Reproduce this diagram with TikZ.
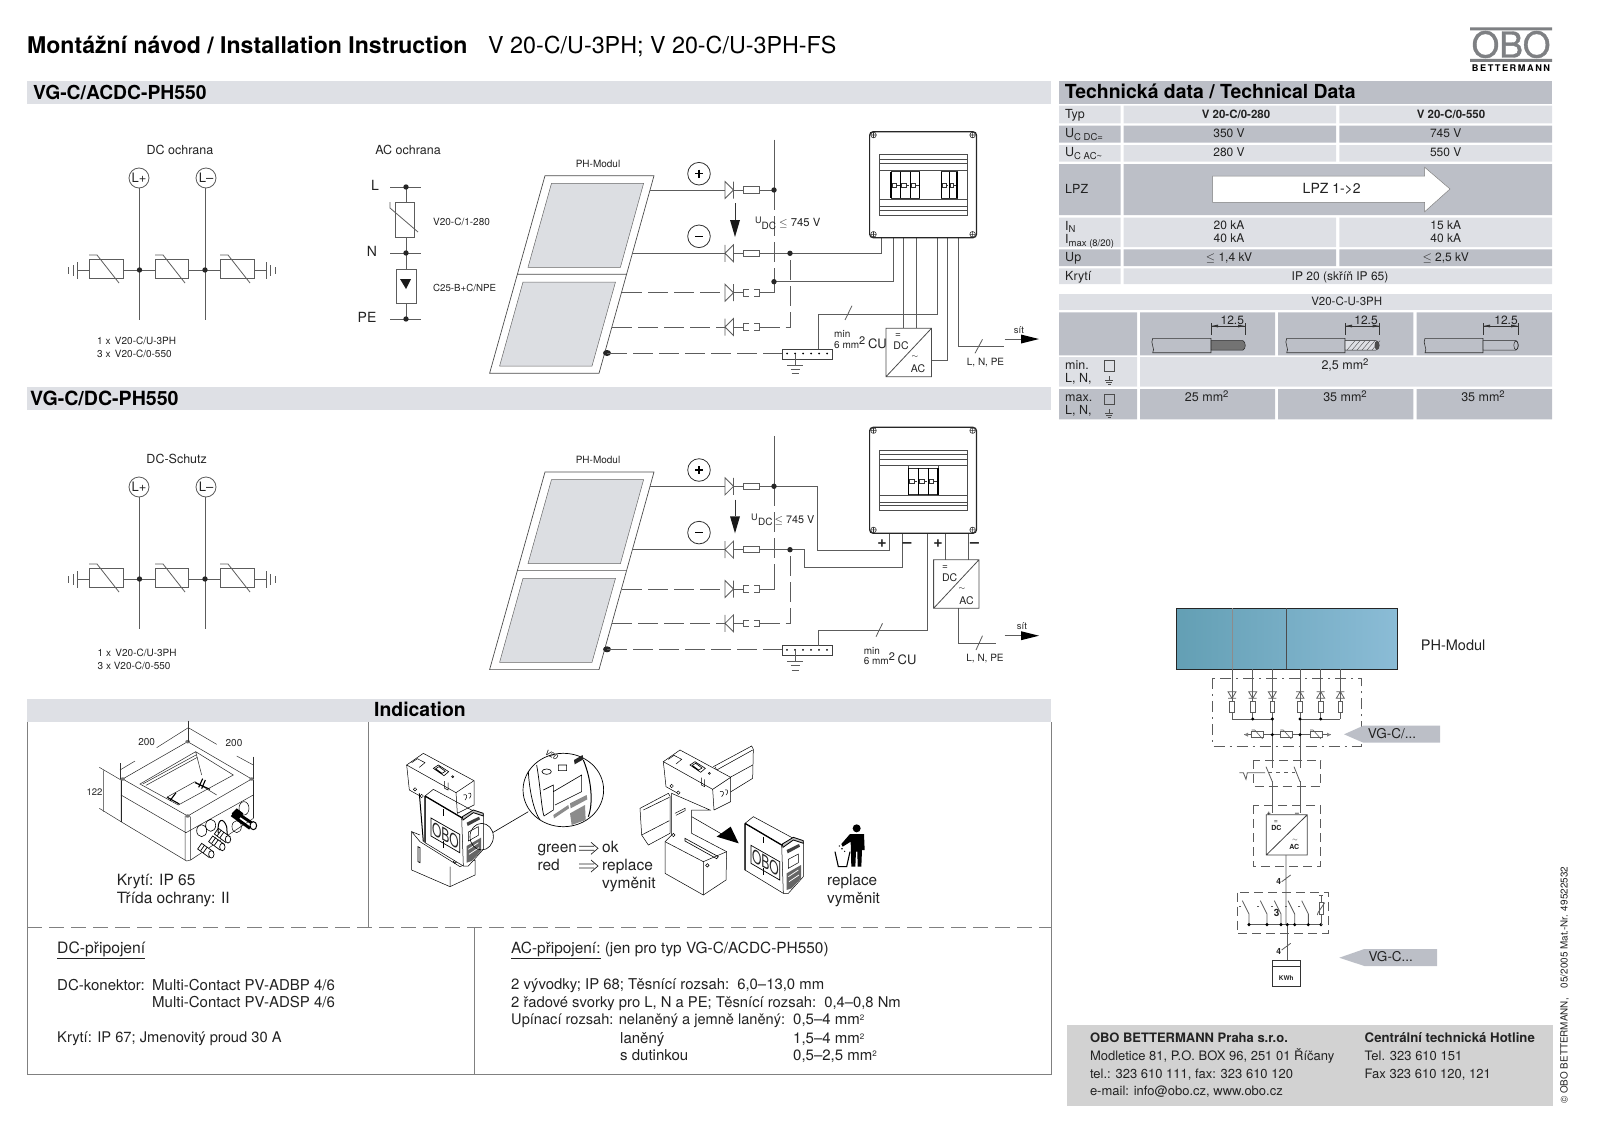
\documentclass[tikz,border=0pt]{standalone}
\usepackage{fontspec}
\setmainfont{TeX Gyre Heros}
\newfontfamily\obofont[FakeBold=1]{TeX Gyre Heros}
\definecolor{lightB}{HTML}{DEE0E5}
\definecolor{darkB}{HTML}{BCBFC7}
\definecolor{wireC}{HTML}{5C5C5C}
\definecolor{textC}{HTML}{222222}
\definecolor{foot}{HTML}{D2D2D2}
\definecolor{logoC}{HTML}{7E8083}
\definecolor{panelC}{HTML}{DCDEE2}
\definecolor{blueL}{HTML}{639FB4}
\definecolor{blueR}{HTML}{8BBCD6}
\newcommand\fz[1]{\fontsize{#1pt}{#1pt}\selectfont}
\newcounter{tn}
\newcommand\TL[4]{\stepcounter{tn}\node[txtl] (t\thetn) at (#1,#2) {\fz{#3}#4};}
\newcommand\TC[4]{\stepcounter{tn}\node[txtc] (t\thetn) at (#1,#2) {\fz{#3}#4};}
\newcommand\TB[4]{\stepcounter{tn}\node[txtb] (t\thetn) at (#1,#2) {\fz{#3}#4};}
\newcommand\subt[1]{\raisebox{-2.5pt}{\fz{9.5}#1}}
\newcommand\supt[1]{\raisebox{4pt}{\fz{8}#1}}
\newcommand\supT[1]{\raisebox{4pt}{\fz{9.5}#1}}
\newcommand\supB[1]{\raisebox{4pt}{\fz{11}#1}}
\tikzset{
 txtl/.style={inner sep=0pt,anchor=mid west,text=textC,yshift=-1.5pt},
 txtc/.style={inner sep=0pt,anchor=mid,text=textC,yshift=-1.5pt},
 txtb/.style={inner sep=0pt,anchor=base west,text=black},
 wire/.style={draw=wireC,line width=0.8pt},
 wd/.style={draw=wireC,line width=0.8pt,dash pattern=on 20pt off 6pt},
 fine/.style={draw=black!80,line width=0.5pt},
 strong/.style={draw=black,line width=1.1pt},
 ddot/.style={draw=wireC,line width=0.7pt,dash pattern=on 11pt off 5pt on 2pt off 5pt},
 dbox/.style={draw=wireC,line width=0.7pt,dash pattern=on 9pt off 5pt},
 frameL/.style={draw=black!50,line width=0.8pt},
}
% varistor, horizontal
\newcommand\VarH[3]{
 \draw[wire] (#1,#3-10.5) rectangle (#2,#3+8.5);
 \draw[wire] (#1,#3-15) -- (#1+8,#3-15) -- (#1+30,#3+13);}
\newcommand\DiodeR[1]{\draw[wire] (725,#1-8.5) -- (733.5,#1) -- (725,#1+8.5) -- cycle (733.5,#1-8.5) -- (733.5,#1+8.5);}
\newcommand\DiodeL[1]{\draw[wire] (733.5,#1-8.5) -- (725,#1) -- (733.5,#1+8.5) -- cycle (725,#1-8.5) -- (725,#1+8.5);}
\newcommand\FuseS[1]{\draw[wire,fill=white] (743,#1-3.2) rectangle (759.5,#1+3.2);}
\newcommand\FuseD[1]{\draw[wire] (749,#1-3.2) -- (743,#1-3.2) -- (743,#1+3.2) -- (749,#1+3.2) (754,#1-3.2) -- (759.5,#1-3.2) -- (759.5,#1+3.2) -- (754,#1+3.2);}
\newcommand\Dot[2]{\fill[black!85] (#1,#2) circle (2.7pt);}
\newcommand\Screw[2]{\draw[line width=0.6pt,black!80] (#1,#2) circle (2.8pt) (#1-2.8,#2) -- (#1+2.8,#2) (#1,#2-2.8) -- (#1,#2+2.8);}
% DC protection block
\newcommand\DCProt{
 \draw[wire] (139,188) -- (139,320) (205,188) -- (205,320);
 \draw[wire] (139,178) circle (10pt) (206,178) circle (10pt);
 \draw[wire] (77,270) -- (89,270) (123,270) -- (155,270) (188,270) -- (220,270) (254,270) -- (266,270);
 \VarH{89}{123}{270}\VarH{155}{188}{270}\VarH{220}{254}{270}
 \draw[wire] (77,262) -- (77,279) (73,265) -- (73,276) (68,267) -- (68,274);
 \draw[wire] (266,262) -- (266,279) (270,265) -- (270,276) (275,267) -- (275,274);
 \Dot{139.5}{270}\Dot{205}{270}
 \TC{139}{178}{13}{L+}\TC{206}{178}{13}{L–}
}
% common PV part
\newcommand\PVcommon{
 \draw[fine,draw=black!70,line width=0.7pt] (545,175.7) -- (654,175.7) -- (599,373.3) -- (489.6,373.3) -- cycle (517.5,274.3) -- (626,274.3);
 \fill[panelC,draw=black!60,line width=0.5pt] (551.5,183.3) -- (643.6,183.3) -- (620.4,267.3) -- (528,267.3) -- cycle;
 \fill[panelC,draw=black!60,line width=0.5pt] (523,282) -- (615.5,282) -- (592,366) -- (499.6,366) -- cycle;
 \draw[line width=0.8pt,black!80] (699,173.7) circle (11.3pt) (699,236.3) circle (11.3pt);
 \draw[line width=1.4pt,black] (695,173.7) -- (703,173.7) (699,169.7) -- (699,177.7) (695,236.3) -- (703,236.3);
 \draw[wire] (650,190) -- (725,190) (733.5,190) -- (743,190) (759.5,190) -- (774,190);
 \draw[wire] (632,253.3) -- (725,253.3) (733.5,253.3) -- (743,253.3);
 \draw[wd] (622,292.7) -- (725,292.7);
 \draw[wire] (733.5,292.7) -- (743,292.7);
 \draw[wd] (612,327) -- (725,327);
 \draw[wire] (733.5,327) -- (743,327);
 \DiodeR{190}\FuseS{190}\DiodeL{253.3}\FuseS{253.3}\DiodeR{292.7}\FuseD{292.7}\DiodeL{327}\FuseD{327}
 \draw[wd] (759.5,327) -- (790,327) -- (790,253.3);
 \draw[wire] (774,139.5) -- (774,190);
 \fill[black!85] (607,353) ellipse (4pt and 3pt);
 \draw[wd] (607,353) -- (782,353);
 \draw[wire,draw=black!75] (782,349) rectangle (832,359.3);
 \foreach \k in {787,795,803,811,819,827} {\fill[black] (\k,353.5) circle (1pt);}
 \draw[wire] (795,353.5) -- (795,365) (787,365) -- (803,365) (790.5,369.5) -- (800,369.5) (791.5,373.7) -- (799,373.7);
 \draw[wire,draw=black!80] (735,203.3) -- (735,220);
 \fill[black!90] (730,220) -- (740,220) -- (735,237) -- cycle;
 \TC{598}{163.5}{10}{PH-Modul}
}
\newcommand\Cab{
 \draw[draw=black!85,line width=1.2pt,rounded corners=3.5pt] (869.6,131.7) rectangle (976.5,237.7);
 \Screw{873.5}{135}\Screw{972.6}{135}\Screw{873.5}{234.3}\Screw{972.6}{234.3}
 \draw[fine,draw=black!70] (879,154.5) rectangle (966.8,215);
 \draw[fine,draw=black!70] (879,159) -- (966.8,159) (879,163.3) -- (966.8,163.3) (879,170) -- (966.8,170) (879,199.3) -- (966.8,199.3) (879,206.7) -- (966.8,206.7) (879,210) -- (966.8,210);
}
\newcommand\Modl[4]{% x y n w
 \draw[line width=0.5pt,black!80] (#1,#2) rectangle ({#1+#3*#4},#2+26.6);
 \foreach \i in {1,...,#3} {
  \draw[line width=1.1pt,black] ({#1+(\i-1)*#4},#2) -- ({#1+(\i-1)*#4},#2+26.6);
  \draw[line width=1.1pt,black] ({#1+\i*#4},#2) -- ({#1+\i*#4},#2+26.6);
  \draw[line width=0.4pt,black!80] ({#1+(\i-1)*#4+1},#2+11) rectangle ({#1+(\i-1)*#4+#4*0.55},#2+15);
  \draw[line width=0.4pt,black!80] ({#1+(\i-1)*#4+#4*0.55},#2+13) -- ({#1+\i*#4-1},#2+13);
 }
}
\newcommand\ArrowRt[1]{\draw[wire] (1004.5,#1) -- (1022,#1); \fill[black] (1021,#1-4.5) -- (1039,#1) -- (1021,#1+4.5) -- cycle;}
% plug-in module
\newcommand\Plug{
 \draw[line width=0.5pt,fill=white] (0,0) -- (110,65) -- (145,45) -- (175,55) -- (175,160) -- (130,210) -- (115,210) -- (0,140) -- cycle;
 \draw[line width=0.5pt] (0,0) -- (25,-20) -- (145,45) (110,65) -- (115,210);
 \draw[line width=1.3pt] (0,0) -- (0,140) (0,0) -- (110,65);
 \draw[line width=0.8pt,fill=black!25] (112,62) -- (145,42) -- (175,52) -- (175,60) -- (145,50) -- (114,72) -- cycle;
 \draw[line width=0.7pt] (18,66) -- (104,115) -- (104,170) -- (18,120) -- cycle;
 \node[transform shape,inner sep=0pt,yslant=-0.57,yscale=1.5,text=black!85] at (61,118) {\fz{12}OBO};
 \draw[line width=0.7pt] (55,40) -- (55,60) (55,135) -- (55,155);
 \fill[black!75] (125,80) -- (162,62) -- (165,70) -- (128,90) -- cycle;
 \draw[line width=0.5pt] (130,108) -- (160,92) -- (160,118) -- (130,135) -- cycle;
 \fill[black!60] (125,150) -- (168,125) -- (168,165) -- (140,195) -- (125,200) -- cycle;
 \draw[white,line width=0.8pt] (130,160) -- (160,140) (132,175) -- (162,155);
}
% din-rail foot
\newcommand\Footp{
 \draw[line width=0.5pt,fill=white] (110,165) -- (160,130) -- (312,212) -- (312,285) -- (262,310) -- (258,248) -- cycle;
 \draw[line width=0.5pt] (258,248) -- (312,212) (110,165) -- (118,240) -- (150,258);
 \draw[line width=0.5pt] (125,158) -- (142,146) -- (165,158) -- (148,172);
 \draw[line width=0.6pt] (190,175) -- (205,165) -- (236,185) -- (222,197) -- cycle (197,176) -- (207,170) -- (226,184) -- (216,190) -- cycle;
 \draw[line width=0.5pt] (224,213) -- (224,235) -- (234,240) -- (234,218);
 \draw[line width=0.6pt] (248,200) circle (1pt);
 \draw[line width=0.5pt] (135,238) circle (1.7pt) (155,258) circle (1.7pt);
 \draw[line width=0.5pt] (280,255) .. controls (290,250) and (295,260) .. (285,270) (295,250) .. controls (305,245) and (305,260) .. (298,265);
}
\begin{document}
\begin{tikzpicture}[x=1pt,y=-1pt]
\useasboundingbox (0,0) rectangle (1600,1132);
% title
\TB{27}{53.5}{23.05}{\bfseries Montážní návod / Installation Instruction}
\TB{488}{53.5}{23.3}{V 20-C/U-3PH; V 20-C/U-3PH-FS}
% logo
\fill[logoC] (1470,27.5) rectangle (1552,30.5) (1470,59) rectangle (1552,62);
\node[inner sep=0pt,text=logoC] (logo) at (1511,44.5) {\fz{35.5}\obofont OBO};
\node[inner sep=0pt,text=black] (logob) at (1511,68) {\fz{9.2}\bfseries B\,E\,T\,T\,E\,R\,M\,A\,N\,N};
% bands
\fill[lightB] (27,81) rectangle (1051,104);
\fill[lightB] (27,387) rectangle (1051,410);
\fill[lightB] (27,699) rectangle (1051,722);
\TB{33}{99}{19.3}{\bfseries VG-C/ACDC-PH550}
\TB{30}{405}{19.6}{\bfseries VG-C/DC-PH550}
\TB{374}{716.7}{19.4}{\bfseries Indication}
% ---- DC protection 1
\TC{180}{150}{12.5}{DC ochrana}
\DCProt
\TL{97}{340}{10}{1 x\, V20-C/U-3PH}
\TL{97}{353}{10}{3 x\, V20-C/0-550}
% ---- AC protection
\TC{408}{150}{12.5}{AC ochrana}
\TC{375}{186}{14}{L}\TC{372}{252}{14}{N}\TC{367}{318}{14}{PE}
\draw[wire] (406,187) -- (406,319) (390,187) -- (421,187) (390,253) -- (421,253) (390,319) -- (421,319);
\draw[wire,fill=white] (395,202) rectangle (414,237);
\draw[wire] (390,202) -- (390,208) -- (418,232);
\draw[wire,fill=white] (396,269) rectangle (416,303);
\fill[black!90] (400,279) -- (411,279) -- (406,289) -- cycle;
\Dot{406}{187}\Dot{406}{253}\Dot{406}{319}
\TL{433}{221.5}{10}{V20-C/1-280}
\TL{433}{287}{9.7}{C25-B+C/NPE}
% ---- PV system 1
\PVcommon
\draw[wd] (774,190) -- (774,281.7);
\draw[wire] (774,281.7) -- (774,292.7) -- (759.5,292.7);
\draw[wire] (759.5,253.3) -- (881,253.3) -- (881,237.7);
\draw[wire] (774,281.3) -- (893.5,281.3) -- (893.5,237.7);
\draw[wire] (903,237.7) -- (903,328.3) (916,237.7) -- (916,328.3);
\draw[wire] (937,237.7) -- (937,314.3) -- (818.6,314.3) -- (818.6,349);
\draw[wire] (947,237.7) -- (947,360) -- (931.5,360);
\draw[wire] (958,237.7) -- (958,346.7) -- (1004,346.7);
\draw[wire] (975,353.3) -- (982.5,339.3) (845,320) -- (852,305.7);
\draw[wire,draw=black!70] (886,328.3) rectangle (931.5,376.7) (886,376.7) -- (931.5,328.3);
\Dot{774}{190}\Dot{790}{253.3}\Dot{774}{281.7}
\TC{898}{333}{10}{=}\TC{901}{345.5}{10.5}{DC}\TC{915}{354}{8}{$\sim$}\TC{918}{368}{10.5}{AC}
\TL{834}{333}{10}{min}
\TL{834}{344}{10}{6 mm\supB{2} \fz{13}CU}
\TL{755}{219}{9}{U}\TL{761.5}{225}{10}{DC}
\TL{779}{222}{11.3}{$\leq$ 745 V}
\TC{1019}{329}{9.5}{sít}
\TC{985.5}{361.7}{10}{L, N, PE}
\ArrowRt{339}
\Cab
\draw[fine,draw=black!70] (891,170) -- (891,199.3) (919.6,170) -- (919.6,199.3) (941.5,170) -- (941.5,199.3) (957,170) -- (957,199.3);
\Modl{891}{171.7}{3}{9.55}
\Modl{941.5}{171.7}{2}{7.75}
% ---- DC protection 2
\begin{scope}[shift={(0,309)}]
\DCProt
\end{scope}
\TC{176.7}{459}{12.5}{DC-Schutz}
\TL{97.5}{652.7}{10}{1 x\, V20-C/U-3PH}
\TL{97.5}{665}{10}{3 x V20-C/0-550}
% ---- PV system 2
\begin{scope}[shift={(0,296.3)}]
\PVcommon
\end{scope}
\draw[wire] (774,486.3) -- (817.5,486.3) -- (817.5,550.3) -- (889,550.3) -- (889,534.3);
\draw[wd] (774,486.3) -- (774,573);
\draw[wire] (774,573) -- (774,589) -- (759.5,589);
\draw[wire] (759.5,549.6) -- (804,549.6) -- (804,567.3) -- (902,567.3) -- (902,534.3);
\draw[wire] (927,534.3) -- (927,630) -- (818,630) -- (818,645.7);
\draw[wire] (945,534.3) -- (945,559.7) (968,534.3) -- (968,559.7);
\draw[wire] (958.6,608.3) -- (958.6,643.3) -- (995.7,643.3);
\draw[wire] (976,650) -- (982.5,635.7) (876,636.7) -- (882.5,623.3);
\draw[wire,draw=black!70] (933.6,559.7) rectangle (979,608.3) (933.6,608.3) -- (979,559.7);
\Dot{774}{486.3}\Dot{790}{549.7}
\TC{945}{565}{10}{=}\TC{949.6}{577.3}{10.5}{DC}\TC{962}{586}{8}{$\sim$}\TC{966.5}{600}{10.5}{AC}
\TL{863.6}{650}{10}{min}
\TL{863.6}{660.7}{10}{6 mm\supB{2} \fz{13}CU}
\TL{751}{516}{9}{U}\TL{758}{521.7}{10}{DC}
\TL{774.5}{519}{10.8}{$\leq$ 745 V}
\TC{1022}{625.7}{9.5}{sít}
\TC{985}{657.7}{10}{L, N, PE}
\ArrowRt{635.7}
\TC{882}{543.7}{16}{\bfseries +}\TC{907}{543.7}{16}{\bfseries –}\TC{938}{543.7}{16}{\bfseries +}\TC{974.6}{543.7}{16}{\bfseries –}
\begin{scope}[shift={(0,295.6)}]
\Cab
\draw[fine,draw=black!70] (908.6,170) -- (908.6,199.3) (938,170) -- (938,199.3);
\Modl{908.6}{172.5}{3}{9.8}
\end{scope}
% ---- technical data table
\fill[darkB] (1059,81) rectangle (1552,104);
\TB{1064.7}{98.3}{19.4}{\bfseries Technická data / Technical Data}
\foreach \a/\b/\c in {105.7/123.3/lightB,125.7/142.7/darkB,145/161.7/lightB,217.7/247/lightB,249.3/266/darkB}{
 \fill[\c] (1059,\a) rectangle (1120.7,\b) (1123.7,\a) rectangle (1336,\b) (1339.3,\a) rectangle (1552,\b);}
\foreach \a/\b/\c in {164/215/darkB,268.3/284/lightB}{
 \fill[\c] (1059,\a) rectangle (1120.7,\b) (1123.7,\a) rectangle (1552,\b);}
\TL{1065}{114.5}{12.5}{Typ}
\TL{1065}{133.5}{12.5}{U\subt{C DC=}}
\TL{1065}{152.5}{12.5}{U\subt{C AC\textasciitilde}}
\TL{1065}{189}{12.5}{LPZ}
\TL{1065}{226}{12.5}{I\subt{N}}
\TL{1065}{239.5}{12.5}{I\subt{max (8/20)}}
\TL{1065}{257.5}{12.5}{Up}
\TL{1065}{276.5}{12.5}{Krytí}
\TC{1236}{114.5}{11.5}{\textbf{V 20-C/0-280}}\TC{1451}{114.5}{11.5}{\textbf{V 20-C/0-550}}
\TC{1229}{133.5}{12}{350 V}\TC{1445.7}{133.5}{12}{745 V}
\TC{1229}{152.5}{12}{280 V}\TC{1445.7}{152.5}{12}{550 V}
\TC{1229}{225.7}{12}{20 kA}\TC{1445.7}{225.7}{12}{15 kA}
\TC{1229}{238.7}{12}{40 kA}\TC{1445.7}{238.7}{12}{40 kA}
\TC{1229}{257.5}{12}{$\leq$ 1,4 kV}\TC{1445.7}{257.5}{12}{$\leq$ 2,5 kV}
\TC{1340}{276.5}{12}{IP 20 (skříň IP 65)}
\draw[draw=black!50,line width=0.5pt,fill=white] (1212.7,176) -- (1424.7,176) -- (1424.7,167.3) -- (1450,189) -- (1424.7,211.7) -- (1424.7,202.3) -- (1212.7,202.3) -- cycle;
\TC{1331.7}{189}{14}{LPZ 1->2}
% ---- connection table
\fill[lightB] (1059,294.3) rectangle (1552,310);
\TC{1346.7}{301.5}{11.5}{V20-C-U-3PH}
\foreach \a/\b/\c in {312.3/355.3/darkB,389/419.3/darkB}{
 \fill[\c] (1059,\a) rectangle (1137,\b) (1140,\a) rectangle (1275,\b) (1278,\a) rectangle (1413.3,\b) (1416.7,\a) rectangle (1552,\b);}
\fill[lightB] (1059,357) rectangle (1137,386.7) (1140,357) rectangle (1552,386.7);
\foreach \xa/\xb/\xc/\xt in {1152.7/1211/1245/1232.3,1286.7/1345/1379.5/1366,1425/1483/1518/1506}{
 \draw[line width=0.6pt,black!80] (\xa,338.3) -- (\xb,338.3) -- (\xb,352.7) -- (\xa,352.7) .. controls (\xa+3,349) and (\xa-3,343) .. (\xa,338.3);
 \draw[line width=0.5pt,black!80] (\xb,323.3) -- (\xb,335) (\xc,323.3) -- (\xc,335) (\xb,326) -- (\xc,326);
 \fill[black!80] (\xb,326) -- (\xb+7,324.6) -- (\xb+7,327.4) -- cycle (\xc,326) -- (\xc-7,324.6) -- (\xc-7,327.4) -- cycle;
 \TC{\xt}{320}{12}{12.5}
}
\draw[line width=0.5pt,black!85,fill=black!55] (1211,340.7) -- (1243,340.7) .. controls (1246,342) and (1246,349) .. (1243,350) -- (1211,350) -- cycle;
\draw[line width=0.5pt,black!85,fill=lightB] (1345,340.7) -- (1376,340.7) .. controls (1380,342) and (1380,349) .. (1376,350) -- (1345,350) -- cycle;
\foreach \k in {0,5,...,25}{\draw[line width=0.4pt,black!70] (1347+\k,350) -- (1355+\k,340.7);}
\fill[black!70] (1377,345.3) ellipse (2.5pt and 4.5pt);
\draw[line width=0.5pt,black!85,fill=darkB] (1483,340.7) -- (1516,340.7) .. controls (1519,342) and (1519,349) .. (1516,350) -- (1483,350) -- cycle;
\draw[line width=0.5pt,black!85] (1516,345.3) ellipse (2.2pt and 4.5pt);
\TL{1065}{365.3}{12.5}{min.}\TL{1065}{378.3}{12.5}{L, N,}
\TL{1065}{397.3}{12.5}{max.}\TL{1065}{410}{12.5}{L, N,}
\foreach \yy/\gg in {360.7/376,394/409}{
 \draw[line width=0.5pt,black!70] (1104,\yy) rectangle (1114,\yy+10.5);
 \draw[line width=0.5pt,black!70] (1109,\gg) -- (1109,\gg+4) (1105,\gg+4) -- (1113,\gg+4) (1106,\gg+6) -- (1112,\gg+6) (1107.5,\gg+8) -- (1110.5,\gg+8);
}
\TC{1345}{365}{12.5}{2,5 mm\supT{2}}
\TC{1206.7}{397}{12.5}{25 mm\supT{2}}\TC{1345}{397}{12.5}{35 mm\supT{2}}\TC{1483}{397}{12.5}{35 mm\supT{2}}
% ---- frames of lower section
\draw[frameL] (27,722) -- (27,1074) -- (1051,1074) -- (1051,722);
\draw[frameL] (368.3,722) -- (368.3,927);
\draw[frameL] (474,927) -- (474,1074);
\draw[frameL,dash pattern=on 15pt off 7pt] (27,927) -- (1051,927);
% ---- enclosure
\begin{scope}[shift={(20,680)},x=0.33333pt,y=-0.33333pt]
 \draw[line width=0.5pt,black!85,fill=white] (308,297) -- (503,185) -- (695,297) -- (503,408) -- cycle;
 \draw[line width=0.5pt,black!85] (303,300) -- (303,425) -- (500,543) -- (512,540) -- (700,415) -- (700,300);
 \draw[line width=0.5pt,black!85] (303,345) -- (498,458) -- (700,345) (495,408) -- (495,540) (512,410) -- (512,540);
 \draw[line width=1pt,black!85] (303,300) -- (303,425) (700,300) -- (700,415);
 \foreach \p/\q in {308/297,503/185,695/297,503/408}{\fill[black!55] (\p,\q) ellipse (2.4pt and 1.7pt);}
 \draw[line width=0.5pt,black!85] (360,312) -- (527,215) -- (640,285) -- (475,375) -- cycle (527,215) -- (545,285);
 \draw[line width=0.5pt,black!85] (368,312) -- (528,225) (378,316) -- (532,232) (440,352) -- (525,305) -- (590,345);
 \draw[line width=1.1pt,black] (442,352) -- (478,372) (468,338) -- (450,362) (525,308) -- (570,328) (548,296) -- (536,322) (556,300) -- (545,326);
 % dimensions
 \draw[line width=0.5pt,black!80] (300,250) -- (300,297) (505,122) -- (505,185) (700,230) -- (700,297);
 \draw[line width=0.5pt,black!80] (300,270) -- (345,243) (410,203) -- (505,143) -- (590,193) (650,228) -- (700,255);
 \draw[line width=0.5pt,black!80] (238,262) -- (303,300) (238,385) -- (303,425) (250,272) -- (250,395);
 % glands
 \draw[line width=0.6pt,black] (545,452) ellipse (5pt and 6pt) (572,436) ellipse (5pt and 6pt);
 \foreach \xx/\yy in {545/490,578/468,595/445}{
  \draw[line width=0.7pt,black,fill=white] (\xx,\yy) -- (\xx+35,\yy+25) -- (\xx+22,\yy+42) -- (\xx-12,\yy+17) -- cycle;
  \draw[line width=0.7pt,black,fill=white] (\xx+29,\yy+33) ellipse (2.7pt and 3.7pt);
  \draw[line width=0.7pt,black] (\xx+9,\yy+5) -- (\xx-3,\yy+22) (\xx+17,\yy+11) -- (\xx+5,\yy+28);
 }
 \draw[line width=1pt,black] (595,460) .. controls (590,415) and (610,410) .. (620,440) -- (622,465);
 \draw[line width=0.5pt,black] (672,385) ellipse (5pt and 6.7pt) (650,440) ellipse (4.7pt and 6pt);
 \draw[line width=3pt,black] (635,405) -- (690,445) (645,395) -- (700,432);
 \fill[black] (635,400) -- (650,385) -- (670,400) -- (655,420) -- cycle;
 \draw[line width=1pt,black,fill=white] (700,437) ellipse (3.3pt and 4pt);
\end{scope}
\TC{146.7}{741.7}{10}{200}\TC{234}{742}{10}{200}\TC{94.5}{791.7}{9.5}{122}
\TL{116.7}{881}{15.5}{Krytí: IP 65}
\TL{116.7}{899}{15.5}{Třída ochrany: II}
% ---- replacing module
\begin{scope}[shift={(370,710)},x=0.33333pt,y=-0.33333pt]
 \Footp
 \draw[line width=0.5pt,fill=white] (125,365) -- (125,480) -- (240,530) -- (315,495) -- (315,450) -- (270,470) -- (150,395) -- cycle;
 \draw[line width=0.5pt] (125,365) -- (150,375) (240,530) -- (240,470);
 \draw[line width=0.6pt] (144,410) -- (144,455) -- (150,458) -- (150,413) -- cycle (255,455) circle (1.7pt);
 \draw[line width=1pt] (148,250) -- (160,395);
 \begin{scope}[shift={(165,258)}]\Plug\end{scope}
 % magnifier
 \draw[line width=0.6pt] (335,380) ellipse (11.7pt and 13.3pt) (368,368) -- (475,305);
 \draw[line width=0.7pt] (580,240) ellipse (40.3pt and 36.7pt);
 \draw[line width=0.7pt] (500,165) .. controls (510,220) and (515,300) .. (522,318) (475,185) .. controls (478,240) and (490,300) .. (510,330);
 \draw[line width=1pt] (640,150) .. controls (665,210) and (670,280) .. (655,320);
 \draw[line width=0.6pt] (520,240) -- (550,225) -- (550,300) -- (522,318) (550,245) -- (635,195) -- (635,245) -- (555,285);
 \fill[black!85] (612,150) -- (638,135) -- (640,148) -- (614,163) -- cycle;
 \draw[line width=0.6pt] (530,185) ellipse (4.7pt and 2.7pt) (565,165) rectangle (590,182);
 \fill[black!45] (550,315) -- (595,285) -- (597,295) -- (552,325) -- cycle (600,280) -- (650,255) -- (652,268) -- (602,295) -- cycle (600,310) -- (645,285) -- (647,330) -- (605,345) -- cycle;
 \node[inner sep=0pt,rotate=-28] (v20) at (545,135) {\fz{7.5}\itshape V20};
 % second stage: foot on rail
 \draw[line width=0.5pt,fill=white] (1030,170) -- (1145,108) -- (1150,118) -- (1148,205) -- (1075,250) -- (1068,225);
 \draw[line width=0.5pt] (1040,180) -- (1148,120) (1035,170) -- (1040,180) (1075,205) -- (1148,165);
 \draw[line width=0.5pt,fill=white] (810,295) -- (895,250) -- (900,258) -- (900,370) -- (835,405) -- (815,375) -- cycle;
 \draw[line width=0.5pt] (820,300) -- (898,262) (815,375) -- (898,332);
 \begin{scope}[shift={(770,-10)}]\Footp\end{scope}
 \draw[line width=0.5pt,fill=white] (905,250) -- (905,375) -- (885,395) -- (885,490) -- (1000,555) -- (1068,510) -- (1070,425) -- (965,370) -- (965,300) -- (1020,300) -- cycle;
 \draw[line width=0.5pt] (885,395) -- (1000,455) -- (1070,425) (1000,455) -- (1000,555);
 \draw[line width=0.6pt] (945,385) -- (1045,440) -- (1040,446) -- (945,393) -- cycle (1012,466) circle (1.7pt);
 \draw[line width=0.5pt] (910,375) circle (1.7pt) (915,310) -- (945,295) -- (945,302) -- (918,316);
 \draw[line width=0.5pt] (965,320) -- (1060,375);
 \fill[black] (1040,380) -- (1082,350) -- (1106,400) -- cycle;
 \begin{scope}[shift={(1125,340)}]\Plug\end{scope}
 % man and bin
 \fill[black] (1460,355) circle (4pt);
 \fill[black] (1440,372) -- (1482,372) -- (1484,420) -- (1476,420) -- (1474,470) -- (1463,470) -- (1462,425) -- (1458,425) -- (1456,470) -- (1444,470) -- (1442,395) -- (1418,410) -- (1414,402) -- cycle;
 \draw[line width=1.1pt,black] (1395,425) -- (1405,470) -- (1430,470) -- (1440,425);
 \fill[black] (1416,416) circle (0.9pt) (1408,408) circle (0.7pt) (1424,424) circle (0.7pt);
\end{scope}
\TL{537.3}{848.3}{15.5}{green}\TL{537.3}{866}{15.5}{red}
\TL{602}{848.3}{15.5}{ok}\TL{602}{866}{15.5}{replace}\TL{602}{884}{15.5}{vyměnit}
\TL{827}{881.5}{15.3}{replace}\TL{827}{899.5}{15.3}{vyměnit}
\foreach \yy in {848.3,866}{
 \draw[line width=0.7pt,textC] (579,\yy-2) -- (594,\yy-2) (579,\yy+2) -- (594,\yy+2) (591,\yy-6) -- (598,\yy) -- (591,\yy+6);
}
% ---- connection text
\TL{57}{949.3}{15.7}{\underline{DC-připojení}}
\TL{57}{986}{15}{DC-konektor:}
\TL{152}{986}{15}{Multi-Contact PV-ADBP 4/6}
\TL{152}{1003}{15}{Multi-Contact PV-ADSP 4/6}
\TL{57}{1038}{14.7}{Krytí: IP 67; Jmenovitý proud 30 A}
\TL{511}{949.3}{15.4}{\underline{AC-připojení:} (jen pro typ VG-C/ACDC-PH550)}
\TL{511}{985.7}{14.9}{2 vývodky; IP 68; Těsnící rozsah:\, 6,0–13,0 mm}
\TL{511}{1003}{14.8}{2 řadové svorky pro L, N a PE; Těsnící rozsah:\, 0,4–0,8 Nm}
\TL{511}{1020.7}{14.6}{Upínací rozsah:}
\TL{618.6}{1020.7}{14.6}{nelaněný a jemně laněný:}
\TL{793}{1020.7}{15}{0,5–4 mm\supt{2}}
\TL{620}{1039}{15}{laněný}\TL{793}{1039}{15}{1,5–4 mm\supt{2}}
\TL{620}{1056.7}{15}{s dutinkou}\TL{793}{1056.7}{15}{0,5–2,5 mm\supt{2}}
% ---- PV overview
\shade[left color=blueL,right color=blueR] (1176,608.3) rectangle (1397,669.3);
\draw[line width=1pt,black!85] (1176,608.3) rectangle (1397,669.3);
\draw[line width=0.4pt,black!45] (1231.7,608.3) -- (1231.7,669.3);
\draw[line width=0.6pt,black!70] (1286.3,608.3) -- (1286.3,669.3);
\TL{1420.7}{646.7}{14.5}{PH-Modul}
\draw[ddot] (1212.3,678.3) rectangle (1361,746);
\foreach \xx in {1232,1252.7,1272.3}{
 \draw[wire] (\xx,669.3) -- (\xx,719);
 \draw[wire] (\xx-4,691.7) -- (\xx+4,691.7) -- (\xx,698.3) -- cycle (\xx-4,698.3) -- (\xx+4,698.3);
 \draw[wire,fill=white] (\xx-2.4,701) rectangle (\xx+2.4,712.3);
}
\foreach \xx in {1300,1320.7,1340.3}{
 \draw[wire] (\xx,669.3) -- (\xx,719);
 \draw[wire] (\xx-4,698.3) -- (\xx+4,698.3) -- (\xx,691.7) -- cycle (\xx-4,691.7) -- (\xx+4,691.7);
 \draw[wire,fill=white] (\xx-2.4,701) rectangle (\xx+2.4,712.3);
}
\draw[wire] (1232,719) -- (1272.3,719) (1300,719) -- (1340.3,719);
\draw[wire] (1272.3,719) -- (1272.3,813) (1300,719) -- (1300,813);
\draw[wire] (1244.3,734.7) -- (1330.7,734.7);
\foreach \xa in {1251.7,1280.3,1310}{
 \draw[wire,line width=0.6pt,fill=white] (\xa,731.7) rectangle (\xa+12,737.3);
 \draw[wire,line width=0.6pt] (\xa,730) -- (\xa+3,730) -- (\xa+11,739);
}
\fill[black!50] (1244,734.7) -- (1248,732.7) -- (1248,736.7) -- cycle (1331,734.7) -- (1327,732.7) -- (1327,736.7) -- cycle;
\foreach \p/\q in {1252.7/719,1272.3/719,1300/719,1320.7/719,1272.3/734.7,1300/734.7}{\fill[black] (\p,\q) circle (1.7pt);}
% main switch
\fill[white] (1268,767.5) rectangle (1305,781);
\draw[dbox] (1253.3,760) rectangle (1320.7,786.7);
\begin{scope}[shift={(1140,590)},x=0.33333pt,y=-0.33333pt]
 \draw[wire] (378,530) -- (397,575) (462,530) -- (480,575);
 \draw[wire] (298,548) -- (310,548) -- (318,568) -- (322,548) -- (375,548);
 \draw[wire,dash pattern=on 4pt off 4pt] (385,548) -- (465,548);
\end{scope}
% inverter
\draw[dbox] (1253,805) rectangle (1320.3,866.7);
\draw[wire,draw=black!75] (1266.3,814.7) rectangle (1307.3,855) (1266.3,855) -- (1307.3,814.7);
\draw[wire] (1286,855) -- (1286,924.7) (1281.7,881.7) -- (1290.7,875);
\TC{1269}{811}{7}{\bfseries +}\TC{1297}{811}{7}{\bfseries –}
\TC{1276}{819}{7}{=}\TC{1276.3}{826.7}{7}{\bfseries DC}\TC{1295}{837}{6}{$\sim$}\TC{1294.3}{845}{7}{\bfseries AC}
\TC{1278.7}{880.7}{8.5}{\bfseries 4}
% distribution
\draw[dbox] (1237,892.7) rectangle (1328.3,933.3);
\draw[wire] (1249,924.7) -- (1321,924.7) (1287.3,924.7) -- (1287.3,960);
\begin{scope}[shift={(1180,780)},x=0.33333pt,y=-0.33333pt]
 \foreach \xx in {207,261,303,344,385}{
  \draw[wire] (\xx-20,362) -- (\xx,402) -- (\xx,434);
  \draw[wire] (\xx-24,378) -- (\xx-30,378);
  \fill[black] (\xx,434) circle (1.7pt);
 }
 \fill[black] (322,434) circle (1.7pt) (423,434) circle (1.7pt);
 \draw[wire] (423,345) -- (423,434) (417,345) -- (429,345);
 \draw[wire,fill=white] (417,368) rectangle (431,403);
 \draw[wire] (412,405) -- (414,398) -- (434,368);
 \draw[wire] (305,510) -- (332,490);
\end{scope}
\TC{1276.7}{912.3}{10}{\bfseries 3}
\TC{1278.7}{950}{8.5}{\bfseries 4}
\draw[wire,draw=black!80] (1272.3,960) rectangle (1300.7,986.5) (1272.3,966) -- (1300.7,966);
\TC{1286.3}{976}{6.5}{\bfseries KWh}
% VG arrows
\fill[darkB] (1344,734.3) -- (1363.3,725.7) -- (1440,725.7) -- (1440,742.7) -- (1363.3,742.7) -- cycle;
\TL{1367.7}{734.3}{13.5}{VG-C/...}
\fill[darkB] (1339.3,957.7) -- (1364.3,949) -- (1437,949) -- (1437,966) -- (1364.3,966) -- cycle;
\TL{1368.3}{957.5}{13.5}{VG-C...}
% footer
\fill[foot] (1067,1025) rectangle (1553,1105.6);
\TL{1089.8}{1038.3}{13}{\bfseries OBO BETTERMANN Praha s.r.o.}
\TL{1089.8}{1056.7}{13}{Modletice 81, P.O. BOX 96, 251 01 Říčany}
\TL{1089.8}{1074}{13}{tel.: 323 610 111, fax: 323 610 120}
\TL{1089.8}{1091}{13}{e-mail: info@obo.cz, www.obo.cz}
\TL{1364.5}{1038.3}{13.2}{\bfseries Centrální technická Hotline}
\TL{1364.5}{1056.7}{13}{Tel. 323 610 151}
\TL{1364.5}{1074}{13}{Fax 323 610 120, 121}
\node[inner sep=0pt,rotate=90,anchor=mid west,text=textC] (side) at (1565,1104) {\fz{9.9}© OBO BETTERMANN,\quad 05/2005 Mat.-Nr. 49522532};
\end{tikzpicture}
\end{document}
